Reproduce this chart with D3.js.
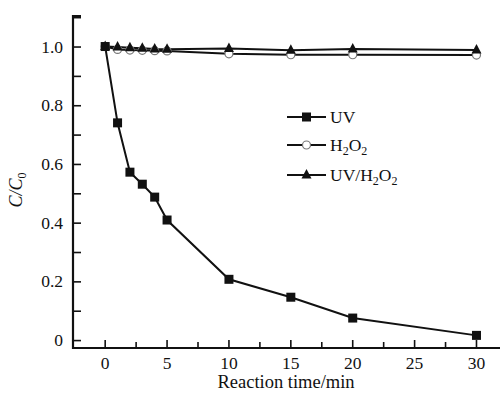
<!DOCTYPE html>
<html>
<head>
<meta charset="utf-8">
<script src="https://cdn.jsdelivr.net/npm/d3@7"></script>
<style>
  body { margin: 0; background: #fff; }
</style>
</head>
<body>
<div id="chart"></div>
<script>
// data
const times = [0, 1, 2, 3, 4, 5, 10, 15, 20, 30];
const uv = [1.0, 0.74, 0.572, 0.531, 0.487, 0.409, 0.207, 0.146, 0.075, 0.016];
const h2o2 = [1.0, 0.99, 0.988, 0.987, 0.986, 0.985, 0.975, 0.972, 0.972, 0.971];
const uvH2o2 = [1.0, 0.998, 0.996, 0.994, 0.992, 0.991, 0.993, 0.987, 0.992, 0.988];
const xTicks = [0, 5, 10, 15, 20, 25, 30];
const yTicks = [0, 0.2, 0.4, 0.6, 0.8, 1.0];
const seriesNames = ["UV", "H2O2", "UV/H2O2"];

const width = 504, height = 400;
const margin = { top: 16, right: 4, bottom: 52, left: 73 };
const serif = "'Liberation Serif', 'Times New Roman', serif";
const fontSize = "17.5px";

const svg = d3.select("#chart").append("svg")
    .attr("width", width)
    .attr("height", height)
    .attr("font-family", serif);

// scales
const x = d3.scaleLinear().domain([-2.6, 31.9]).range([margin.left, width - margin.right]);
const y = d3.scaleLinear().domain([-0.027, 1.104]).range([height - margin.bottom, margin.top]);

// y axis: ticks point inward
const yAxis = svg.append("g")
    .attr("transform", "translate(" + margin.left + ",0)");
yAxis.call(d3.axisRight(y)
    .tickValues(d3.range(0, 1.101, 0.1))
    .tickSize(8)
    .tickFormat(""));
yAxis.attr("font-family", serif);
yAxis.select(".domain").remove();
yAxis.selectAll("line").attr("stroke", "#111").attr("stroke-width", 1.6);

yAxis.selectAll(".lbl")
    .data(yTicks)
    .enter().append("text")
    .attr("class", "lbl")
    .attr("x", -10)
    .attr("y", d => y(d))
    .attr("dy", "0.35em")
    .attr("text-anchor", "end")
    .attr("fill", "#111")
    .style("font-family", serif)
    .style("font-size", fontSize)
    .text(d => d === 0 ? "0" : d.toFixed(1));

// x axis: ticks point up
const xAxis = svg.append("g")
    .attr("transform", "translate(0," + (height - margin.bottom) + ")");
const minorX = d3.range(2.5, 30, 5);
xAxis.selectAll(".major")
    .data(xTicks)
    .enter().append("line")
    .attr("class", "major")
    .attr("x1", d => x(d)).attr("x2", d => x(d))
    .attr("y1", 0).attr("y2", -8)
    .attr("stroke", "#111").attr("stroke-width", 1.6);
xAxis.selectAll(".minor")
    .data(minorX)
    .enter().append("line")
    .attr("class", "minor")
    .attr("x1", d => x(d)).attr("x2", d => x(d))
    .attr("y1", 0).attr("y2", -6)
    .attr("stroke", "#111").attr("stroke-width", 1.6);
xAxis.selectAll(".lbl")
    .data(xTicks)
    .enter().append("text")
    .attr("class", "lbl")
    .attr("x", d => x(d))
    .attr("y", 21)
    .attr("text-anchor", "middle")
    .attr("fill", "#111")
    .style("font-family", serif)
    .style("font-size", fontSize)
    .text(d => d);

// axis lines
svg.append("path")
    .attr("d", "M" + (margin.left + 8) + "," + y(1.104) + "H" + margin.left +
        "V" + (height - margin.bottom) + "H" + (width - margin.right))
    .attr("fill", "none")
    .attr("stroke", "#111")
    .attr("stroke-width", 2.2);

// axis titles
svg.append("text")
    .attr("x", 286)
    .attr("y", 388)
    .attr("text-anchor", "middle")
    .attr("fill", "#111")
    .style("font-family", serif)
    .style("font-size", "18.5px")
    .text("Reaction time/min");

const yTitle = svg.append("text")
    .attr("transform", "translate(22," + 190 + ") rotate(-90)")
    .attr("text-anchor", "middle")
    .attr("fill", "#111")
    .style("font-family", serif)
    .style("font-size", "18px")
    .style("font-style", "italic");
yTitle.append("tspan").text("C/C");
yTitle.append("tspan").attr("dy", 4).style("font-size", "12px").style("font-style", "normal").text("0");

// lines
const line = d3.line()
    .x((d, i) => x(times[i]))
    .y(d => y(d));

const allSeries = [h2o2, uvH2o2, uv];
svg.selectAll(".series")
    .data(allSeries)
    .enter().append("path")
    .attr("class", "series")
    .attr("d", d => line(d))
    .attr("fill", "none")
    .attr("stroke", "#111")
    .attr("stroke-width", 2);

// marker drawing helpers
function square(g, cx, cy) {
    g.append("rect")
        .attr("x", cx - 4.5).attr("y", cy - 4.5)
        .attr("width", 9).attr("height", 9)
        .attr("fill", "#111");
}
function circle(g, cx, cy) {
    g.append("circle")
        .attr("cx", cx).attr("cy", cy).attr("r", 4)
        .attr("fill", "#fff")
        .attr("stroke", "#777")
        .attr("stroke-width", 1.2);
}
function triangle(g, cx, cy) {
    g.append("path")
        .attr("d", "M" + cx + "," + (cy - 6) + "L" + (cx + 5) + "," + (cy + 3.5) + "L" + (cx - 5) + "," + (cy + 3.5) + "Z")
        .attr("fill", "#111");
}

const marks = svg.append("g");
h2o2.forEach((v, i) => circle(marks, x(times[i]), y(v)));
uvH2o2.forEach((v, i) => triangle(marks, x(times[i]), y(v)));
uv.forEach((v, i) => square(marks, x(times[i]), y(v)));

// legend
const legend = svg.append("g");
const legendY = [117, 145, 175];
const markerFns = [square, circle, triangle];
seriesNames.forEach((name, i) => {
    const ly = legendY[i];
    legend.append("line")
        .attr("x1", 287).attr("x2", 326)
        .attr("y1", ly).attr("y2", ly)
        .attr("stroke", "#111").attr("stroke-width", 2);
    markerFns[i](legend, 306.5, ly);
    const t = legend.append("text")
        .attr("x", 330)
        .attr("y", ly)
        .attr("dy", "0.35em")
        .attr("fill", "#111")
        .style("font-family", serif)
        .style("font-size", fontSize);
    if (name === "UV") {
        t.text("UV");
    } else {
        t.append("tspan").text(name === "H2O2" ? "H" : "UV/H");
        t.append("tspan").attr("dy", 4).style("font-size", "12px").text("2");
        t.append("tspan").attr("dy", -4).text("O");
        t.append("tspan").attr("dy", 4).style("font-size", "12px").text("2");
    }
});
</script>
</body>
</html>
